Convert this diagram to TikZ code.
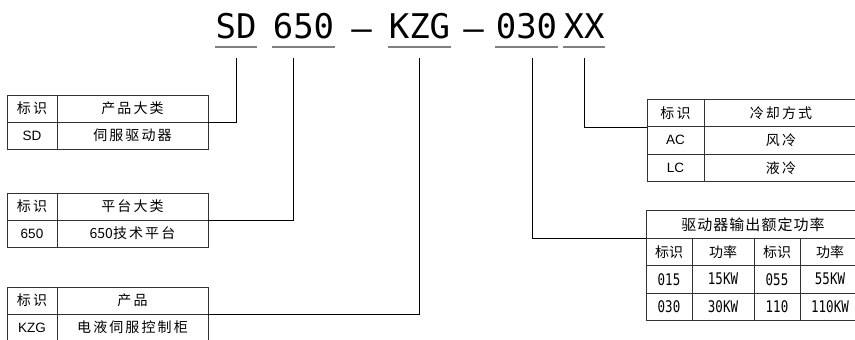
\documentclass[tikz,border=0pt]{standalone}
\usepackage{fontspec}
\setmainfont{Liberation Sans}
\newfontfamily\cjk[LetterSpace=15]{Noto Sans CJK SC}
\newfontfamily\cjkmid[LetterSpace=7]{Noto Sans CJK SC}
\newfontfamily\cjkhei{Noto Sans CJK SC}
\newfontfamily\codefont{DejaVu Sans Mono}
\newfontfamily\numfont[FakeStretch=0.78]{DejaVu Sans Mono}
\definecolor{tableline}{gray}{0.2}
\definecolor{codeline}{gray}{0.5}
\tikzset{
  code/.style={font=\codefont\fontsize{34}{34}\selectfont, inner sep=0.5pt, anchor=base},
  cell/.style={draw=tableline, line width=0.9pt, minimum height=27pt, inner sep=0pt, font=\cjk\fontsize{14}{14}\selectfont},
  latin/.style={font=\fontsize{13.5}{13.5}\selectfont},
  heicell/.style={cell, minimum height=27.5pt, font=\cjkhei\fontsize{14}{14}\selectfont},
  numcell/.style={heicell, font=\numfont\fontsize{16}{16}\selectfont},
  link/.style={draw=black, line width=0.8pt},
  under/.style={draw=codeline, line width=1.3pt}
}
\begin{document}
\begin{tikzpicture}[x=1pt, y=-1pt]
    \useasboundingbox (0,0) rectangle (855,340);

    % Draw model code
    \node[code] (sd) at (236,38) {SD};
    \node[code] (plat) at (303.5,38) {650};
    \node[code] (dasha) at (361.5,41) {–};
    \node[code] (kzg) at (419.5,38) {KZG};
    \node[code] (dashb) at (473.5,41) {–};
    \node[code] (power) at (526.5,38) {030};
    \node[code] (cool) at (584,38) {XX};

    % Underline each part of the code
    \draw[under] ([yshift=-9pt]sd.base west) -- ([yshift=-9pt]sd.base east);
    \draw[under] ([yshift=-9pt]plat.base west) -- ([yshift=-9pt]plat.base east);
    \draw[under] ([yshift=-9pt]kzg.base west) -- ([yshift=-9pt]kzg.base east);
    \draw[under] ([yshift=-9pt]power.base west) -- ([yshift=-9pt]power.base east);
    \draw[under] ([yshift=-9pt]cool.base west) -- ([yshift=-9pt]cool.base east);

    % Table: product class
    \node[cell, minimum width=50pt] (sdkey) at (32,108.5) {标识};
    \node[cell, minimum width=151pt] (sdhead) at (132.5,108.5) {产品大类};
    \node[cell, latin, minimum width=50pt] (sdcode) at (32,135.5) {SD};
    \node[cell, minimum width=151pt] (sdname) at (132.5,135.5) {伺服驱动器};

    % Table: platform
    \node[cell, minimum width=50pt] (platkey) at (32,206.5) {标识};
    \node[cell, minimum width=151pt] (plathead) at (132.5,206.5) {平台大类};
    \node[cell, latin, minimum width=50pt] (platcode) at (32,233.5) {650};
    \node[cell, minimum width=151pt] (platname) at (132.5,233.5) {{\cjkhei 650}技术平台};

    % Table: product
    \node[cell, minimum width=50pt] (prodkey) at (32,300.5) {标识};
    \node[cell, minimum width=151pt] (prodhead) at (132.5,300.5) {产品};
    \node[cell, latin, minimum width=50pt] (prodcode) at (32,327.5) {KZG};
    \node[cell, minimum width=151pt] (prodname) at (132.5,327.5) {电液伺服控制柜};

    % Table: cooling
    \node[cell, minimum width=57pt, minimum height=27.5pt] (coolkey) at (675.5,112.75) {标识};
    \node[cell, minimum width=154pt, minimum height=27.5pt] (coolhead) at (781,112.75) {冷却方式};
    \node[cell, latin, minimum width=57pt, minimum height=27.5pt] (ac) at (675.5,140.25) {AC};
    \node[cell, minimum width=154pt, minimum height=27.5pt] (acname) at (781,140.25) {风冷};
    \node[cell, latin, minimum width=57pt, minimum height=27.5pt] (lc) at (675.5,167.75) {LC};
    \node[cell, minimum width=154pt, minimum height=27.5pt] (lcname) at (781,167.75) {液冷};

    % Table: rated power
    \node[heicell, font=\cjkmid\fontsize{15}{15}\selectfont, minimum width=214pt] (powerhead) at (753,224.5) {驱动器输出额定功率};
    \node[heicell, minimum width=46pt] (keya) at (669,251.75) {标识};
    \node[heicell, minimum width=62pt] (kwa) at (723,251.75) {功率};
    \node[heicell, minimum width=46pt] (keyb) at (777,251.75) {标识};
    \node[heicell, minimum width=60pt] (kwb) at (830,251.75) {功率};
    \node[numcell, minimum width=46pt] (p015) at (669,279.25) {015};
    \node[numcell, minimum width=62pt] (k015) at (723,279.25) {15KW};
    \node[numcell, minimum width=46pt] (p055) at (777,279.25) {055};
    \node[numcell, minimum width=60pt] (k055) at (830,279.25) {55KW};
    \node[numcell, minimum width=46pt] (p030) at (669,306.75) {030};
    \node[numcell, minimum width=62pt] (k030) at (723,306.75) {30KW};
    \node[numcell, minimum width=46pt] (p110) at (777,306.75) {110};
    \node[numcell, minimum width=60pt] (k110) at (830,306.75) {110KW};

    % Draw connectors from code to tables
    \draw[link] ([yshift=-20pt]sd.base) |- (sdhead.south east);
    \draw[link] ([xshift=-10pt,yshift=-20pt]plat.base) |- (plathead.south east);
    \draw[link] ([yshift=-20pt]kzg.base) |- (prodhead.south east);
    \draw[link] ([xshift=5.5pt,yshift=-20pt]power.base) |- (powerhead.south west);
    \draw[link] ([yshift=-20pt]cool.base) |- (coolkey.south west);
\end{tikzpicture}
\end{document}
